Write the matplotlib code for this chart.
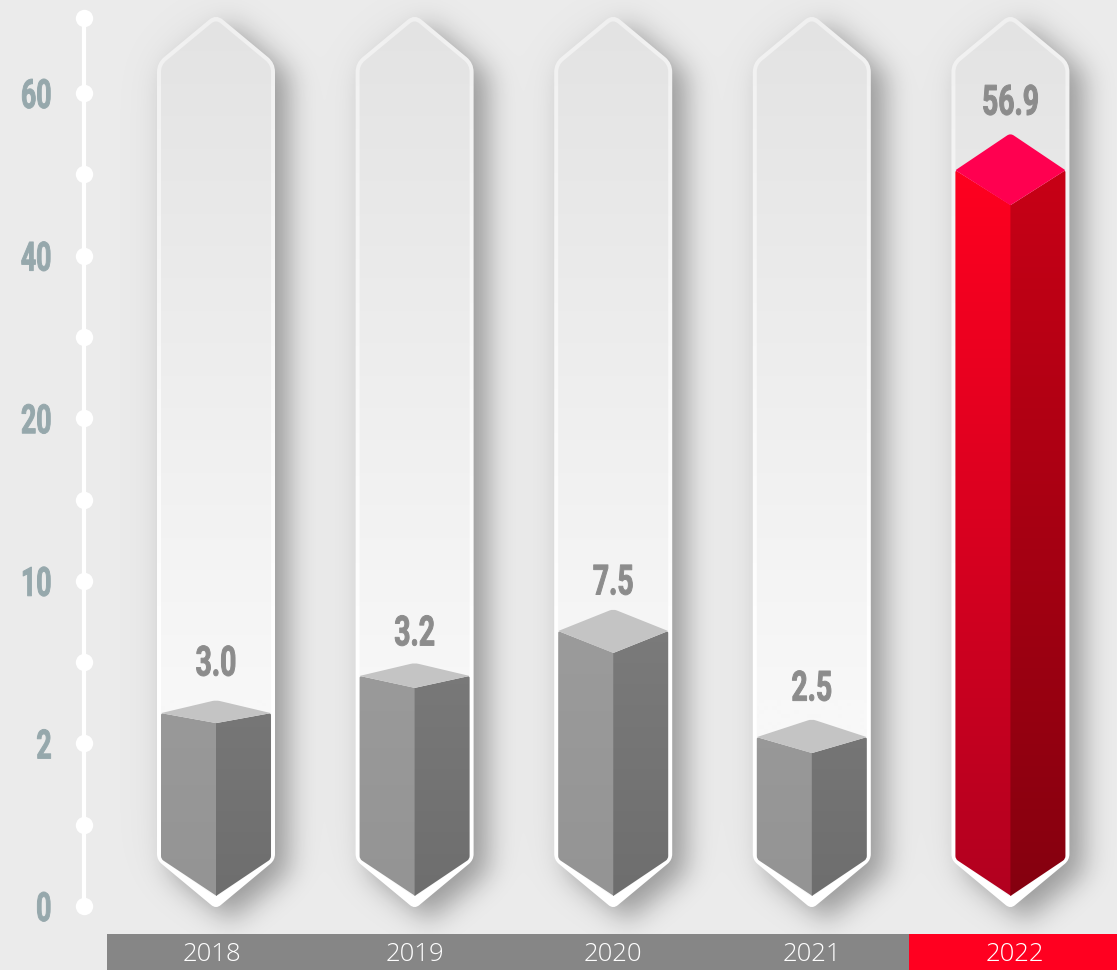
import numpy as np
import matplotlib
matplotlib.use("Agg")
import matplotlib.pyplot as plt
import matplotlib.ticker as mticker
from matplotlib.path import Path
from matplotlib.patches import PathPatch, Rectangle
from matplotlib.patheffects import AbstractPathEffect
from matplotlib.transforms import Affine2D

# ---- data ----
years = ["2018", "2019", "2020", "2021", "2022"]
value_labels = ["3.0", "3.2", "7.5", "2.5", "56.9"]
# height of each column's shoulder, read off the (non-uniform) axis
drawn_levels = [3.49, 5.32, 7.53, 2.31, 50.5]
axis_ticks = [0, 2, 10, 20, 40, 60]
axis_dots = [0, 1, 2, 6, 10, 15, 20, 30, 40, 50, 60, 69.2]

# ---- style ----
W, H = 1117, 970
BG = "#ebebeb"
back_rise = [13, 13, 22, 18, 37]
front_drop = [10, 12, 22, 16, 35]
label_rise = [49, 42, 48, 48, 67]
label_dx = [-4, 0, 0, 0, 4]
NARROW = "Roboto"
YEARFONT = "Open Sans"


class Squeeze(AbstractPathEffect):
    """Condense a text horizontally about its centre or right edge, a bit heavier."""

    def __init__(self, sx, anchor="center", extra=0.7):
        super().__init__()
        self.sx, self.anchor, self.extra = sx, anchor, extra

    def draw_path(self, renderer, gc, tpath, affine, rgbFace=None):
        ext = tpath.get_extents(affine)
        cx = ext.x1 if self.anchor == "right" else (ext.x0 + ext.x1) / 2
        squeeze = Affine2D().translate(-cx, 0).scale(self.sx, 1).translate(cx, 0)
        gc0 = renderer.new_gc()
        gc0.copy_properties(gc)
        gc0.set_linewidth(self.extra)
        gc0.set_foreground(rgbFace)
        renderer.draw_path(gc0, tpath, affine + squeeze, rgbFace)
        gc0.restore()


def fwd(v):
    v = np.asarray(v, dtype=float)
    out = np.interp(v, axis_ticks, np.arange(len(axis_ticks), dtype=float))
    out = np.where(v < 0, v / 2.0, out)
    out = np.where(v > 60, 5 + (v - 60) / 20.0, out)
    return out


def inv(s):
    s = np.asarray(s, dtype=float)
    out = np.interp(s, np.arange(len(axis_ticks), dtype=float), axis_ticks)
    out = np.where(s < 0, s * 2.0, out)
    out = np.where(s > 5, 60 + (s - 5) * 20.0, out)
    return out


fig = plt.figure(figsize=((W + .01) / 100, (H + .01) / 100), dpi=100, facecolor=BG)

# pixel layer for the decorated shapes
px = fig.add_axes([0, 0, 1, 1], zorder=1)
px.set_axis_off()

# data layer with the real scales
ax = fig.add_axes([0, 0, 1, 1], zorder=2)
ax.patch.set_alpha(0)
ax.set_yscale("function", functions=(fwd, inv))
unit = 198.6
ax.set_xlim(-216 / unit, (W - 216) / unit)
ax.set_ylim(-0.787, 71.44)
axis_x = (84 - 216) / unit


def to_px(x, y):
    d = ax.transData.transform((x, y))
    return d[0], H - d[1]


def rounded(verts, r):
    """closed polygon with rounded corners; r may be one value per corner"""
    v = np.asarray(verts, float)
    n = len(v)
    rs = np.broadcast_to(r, (n,))
    pts, codes = [], []
    for k in range(n):
        p, a, b = v[k], v[k - 1], v[(k + 1) % n]
        ra = rs[k]
        u = (a - p) / np.linalg.norm(a - p)
        w = (b - p) / np.linalg.norm(b - p)
        s, e = p + u * ra, p + w * ra
        pts.append(s)
        codes.append(Path.MOVETO if k == 0 else Path.LINETO)
        pts += [p, e]
        codes += [Path.CURVE3, Path.CURVE3]
    pts.append(pts[0])
    codes.append(Path.CLOSEPOLY)
    return Path(pts, codes)


def gradient(path, y0, y1, c0, c1, zorder):
    c0 = np.array(matplotlib.colors.to_rgb(c0))
    c1 = np.array(matplotlib.colors.to_rgb(c1))
    t = np.clip((np.arange(H) + .5 - y0) / (y1 - y0), 0, 1)[:, None]
    img = (c0 * (1 - t) + c1 * t)[:, None, :]
    im = px.imshow(img, extent=(0, W, H, 0), aspect="auto", zorder=zorder,
                   interpolation="bilinear")
    patch = PathPatch(path, transform=px.transData, facecolor="none", edgecolor="none")
    im.set_clip_path(patch)
    return im


def gauss(a, sigma):
    fy = np.fft.fftfreq(a.shape[0])[:, None]
    fx = np.fft.rfftfreq(a.shape[1])[None, :]
    g = np.exp(-2 * (np.pi * sigma) ** 2 * (fx ** 2 + fy ** 2))
    return np.fft.irfft2(np.fft.rfft2(a) * g, s=a.shape)


centres = [to_px(i, 0)[0] for i in range(len(years))]


def outer_poly(c):
    return [(c, 14), (c + 59, 63), (c + 59, 860), (c, 909), (c - 59, 860), (c - 59, 63)]


def inner_poly(c):
    return [(c, 19.5), (c + 55, 65), (c + 55, 859), (c, 897), (c - 55, 859), (c - 55, 65)]


# shadows
yy, xx = np.mgrid[0:H, 0:W]
grid = np.column_stack([xx.ravel() + .5, yy.ravel() + .5])
mask = np.zeros((H, W))
for c in centres:
    mask += Path(outer_poly(c) + [outer_poly(c)[0]]).contains_points(grid).reshape(H, W)
shift = np.roll(np.roll(mask, 12, axis=0), 14, axis=1)
alpha = 0.31 * np.clip(gauss(shift, 13), 0, 1) + 0.05 * np.clip(gauss(mask, 26), 0, 1)
shadow = np.zeros((H, W, 4))
shadow[..., 3] = np.clip(alpha, 0, 1)
px.imshow(shadow, extent=(0, W, H, 0), aspect="auto", zorder=1, interpolation="bilinear")

for i, c in enumerate(centres):
    last = i == len(years) - 1
    # frame
    gradient(rounded(outer_poly(c), [9, 9, 6, 6, 6, 9]), 0, 650, "#f0f0f0", "#ffffff", 2)
    gradient(rounded(inner_poly(c), [6, 7, 3, 3, 3, 7]), 20, 700, "#e3e3e3", "#f8f8f8", 3)

    # column
    side = to_px(i, drawn_levels[i])[1]
    back, front = side - back_rise[i], side + front_drop[i]
    hw = 55
    if last:
        lc = ("#ff0020", "#b2001f")
        rc = ("#c80016", "#85000f")
        topc = "#ff0050"
        gy0 = side
    else:
        lc = ("#9c9c9c", "#949494")
        rc = ("#7c7c7c", "#6e6e6e")
        topc = "#c4c4c4"
        gy0 = 600
    left = [(c - hw, side), (c + .7, front), (c + .7, 896), (c - hw, 859)]
    right = [(c + hw, side), (c, front), (c, 896), (c + hw, 859)]
    gradient(rounded(left, [2, .1, .1, 3]), gy0, 896, lc[0], lc[1], 4)
    gradient(rounded(right, [2, .1, .1, 3]), gy0, 896, rc[0], rc[1], 4)
    top = [(c, back), (c + hw, side), (c, front), (c - hw, side)]
    px.add_patch(PathPatch(rounded(top, [4, 1, .1, 1]), facecolor=topc, edgecolor="none", zorder=5))

    # value label
    t = ax.annotate(value_labels[i], xy=(i, drawn_levels[i]),
                    xytext=(0, label_rise[i] * 0.72), textcoords="offset points",
                    ha="center", va="center", color="#8c8c8c", family=NARROW,
                    fontweight="bold", fontsize=30)
    t.set_path_effects([Squeeze(0.68)])

# category band
for i in range(len(years)):
    x0 = 107 + i * 200.5 if i < 4 else 909
    x1 = 107 + (i + 1) * 200.5 if i < 4 else W
    px.add_patch(Rectangle((x0, 934), x1 - x0, H - 934, zorder=6, edgecolor="none",
                           facecolor="#ff0020" if i == 4 else "#868686"))

px.set_xlim(0, W)
px.set_ylim(H, 0)

# axis
for name in ("top", "right", "bottom"):
    ax.spines[name].set_visible(False)
sp = ax.spines["left"]
sp.set_position(("data", axis_x))
sp.set_color("white")
sp.set_linewidth(3)
sp.set_bounds(0, axis_dots[-1])
ax.plot([axis_x] * len(axis_dots), axis_dots, "o", color="white", ms=12.5, mec="none",
        clip_on=False, zorder=3)
ax.set_yticks(axis_ticks)
ax.set_yticklabels([str(t) for t in axis_ticks], family=NARROW, fontweight="bold",
                   fontsize=29, color="#96a8ac")
ax.yaxis.set_minor_locator(mticker.NullLocator())
ax.tick_params(axis="y", length=0, pad=23)
for lab in ax.get_yticklabels():
    lab.set_path_effects([Squeeze(0.66, "right")])
ax.set_xticks(range(len(years)))
ax.set_xticklabels(years, family=YEARFONT, fontsize=18.5, color="white", fontweight="light")
ax.tick_params(axis="x", length=0, pad=-20)
for lab, dx in zip(ax.get_xticklabels(), label_dx):
    lab.set_transform(lab.get_transform() + Affine2D().translate(dx, 0))

fig.savefig("out.png", dpi=100, facecolor=BG)
